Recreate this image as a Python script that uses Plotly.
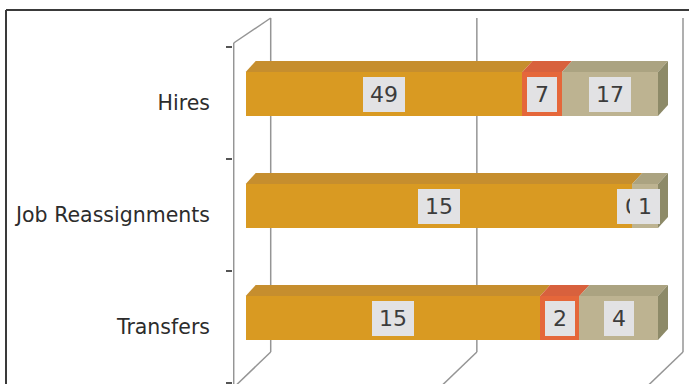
import plotly.graph_objects as go

# ---- data -------------------------------------------------------------
categories = ["Hires", "Job Reassignments", "Transfers"]
primary = [49, 15, 15]
secondary = [7, 0, 2]
other = [17, 1, 4]
series = [primary, secondary, other]

# ---- styling ----------------------------------------------------------
front_colors = ["#d99a22", "#e5673a", "#bdb391"]
top_colors = ["#c68e2e", "#d8613d", "#aba381"]
side_color = "#8d8a68"
wall_color = "#959595"
frame_color = "#3a3a3a"
label_bg = "#e2e2e4"
text_color = "#3c3c3c"

W, H = 689, 384
ML = 233
x_range = [-3.08, 107.52]
y_range = [-0.509, 2.920]
plot_w = W - ML
plot_h = H
x_per_px = (x_range[1] - x_range[0]) / plot_w
y_per_px = (y_range[1] - y_range[0]) / plot_h

depth_dx = 10 * x_per_px       # bar depth (top / side faces)
depth_dy = 11 * y_per_px
lift = 9 * y_per_px            # bars sit slightly behind the front wall
bar_h = 44 * y_per_px

totals = [sum(vals) for vals in zip(*series)]
pcts = [[v / t * 100 for v, t in zip(s, totals)] for s in series]

n = len(categories)
pos = [n - 1 - i for i in range(n)]
ys = [p + lift for p in pos]

fig = go.Figure()
for pct, col in zip(pcts, front_colors):
    fig.add_trace(go.Bar(
        y=ys, x=pct, orientation="h", width=bar_h,
        marker=dict(color=col, line=dict(width=0)),
        hoverinfo="skip", showlegend=False,
    ))

shapes = []


def py(p):
    return 1 - p / H


def px(p):
    return (p - ML) / plot_w


# outer frame
shapes.append(dict(type="line", xref="paper", yref="paper", x0=px(6), x1=px(W + 2),
                   y0=py(10), y1=py(10), line=dict(color=frame_color, width=2)))
shapes.append(dict(type="line", xref="paper", yref="paper", x0=px(6), x1=px(6),
                   y0=py(10), y1=py(H + 2), line=dict(color=frame_color, width=2)))

# back wall gridlines and floor edges
back_off, front_off = 25, -12.5
for v in [0, 50, 100]:
    shapes.append(dict(type="line", xref="x", xsizemode="pixel", xanchor=v,
                       x0=back_off, x1=back_off, yref="paper", y0=py(352), y1=py(18),
                       line=dict(color=wall_color, width=1.5), layer="below"))
    shapes.append(dict(type="line", xref="x", xsizemode="pixel", xanchor=v,
                       x0=back_off, x1=front_off, yref="paper", y0=py(352), y1=py(H + 4),
                       line=dict(color=wall_color, width=1.5), layer="below"))
# side wall
shapes.append(dict(type="line", xref="x", xsizemode="pixel", xanchor=0,
                   x0=-12, x1=back_off, yref="paper", y0=py(43), y1=py(18),
                   line=dict(color=wall_color, width=1.5), layer="below"))
shapes.append(dict(type="line", xref="x", xsizemode="pixel", xanchor=0,
                   x0=-12, x1=-12, yref="paper", y0=py(43), y1=py(H + 4),
                   line=dict(color=wall_color, width=1.5), layer="below"))

# 3D top and side faces of the bars
for i in range(n):
    y_top = ys[i] + bar_h / 2
    y_bot = ys[i] - bar_h / 2
    start = 0.0
    for k in range(len(series)):
        w = pcts[k][i]
        if w > 0:
            x0, x1 = start, start + w
            path = (f"M {x0},{y_top} L {x1},{y_top} L {x1 + depth_dx},{y_top + depth_dy} "
                    f"L {x0 + depth_dx},{y_top + depth_dy} Z")
            shapes.append(dict(type="path", path=path, xref="x", yref="y",
                               fillcolor=top_colors[k], line=dict(width=0)))
        start += w
    end = start
    path = (f"M {end},{y_top} L {end + depth_dx},{y_top + depth_dy} "
            f"L {end + depth_dx},{y_bot + depth_dy} L {end},{y_bot} Z")
    shapes.append(dict(type="path", path=path, xref="x", yref="y",
                       fillcolor=side_color, line=dict(width=0)))

# value labels
annotations = []
for i in range(n):
    start = 0.0
    for k in range(len(series)):
        w = pcts[k][i]
        txt = str(series[k][i])
        annotations.append(dict(
            x=start + w / 2, y=ys[i], xref="x", yref="y", text=txt, showarrow=False,
            bgcolor=label_bg, borderpad=0, borderwidth=0,
            width=42 if len(txt) > 1 else 30, height=35,
            font=dict(family="DejaVu Sans", size=22, color=text_color),
        ))
        start += w

fig.update_layout(
    width=W, height=H,
    margin=dict(l=ML, r=0, t=0, b=0),
    paper_bgcolor="white", plot_bgcolor="white",
    barmode="stack", bargap=0,
    shapes=shapes, annotations=annotations,
    xaxis=dict(range=x_range, visible=False, fixedrange=True),
    yaxis=dict(
        range=y_range, tickvals=pos, ticktext=categories, ticks="",
        showgrid=False, zeroline=False, showline=False,
        tickfont=dict(family="DejaVu Sans", size=20.5, color="#2c2c2c"),
        ticklabelstandoff=22,
        minor=dict(tickvals=[-0.5, 0.5, 1.5, 2.5], ticks="outside", ticklen=6,
                   tickwidth=1.5, tickcolor="#555555", showgrid=False),
        fixedrange=True,
    ),
)

fig.write_html("out.html")
